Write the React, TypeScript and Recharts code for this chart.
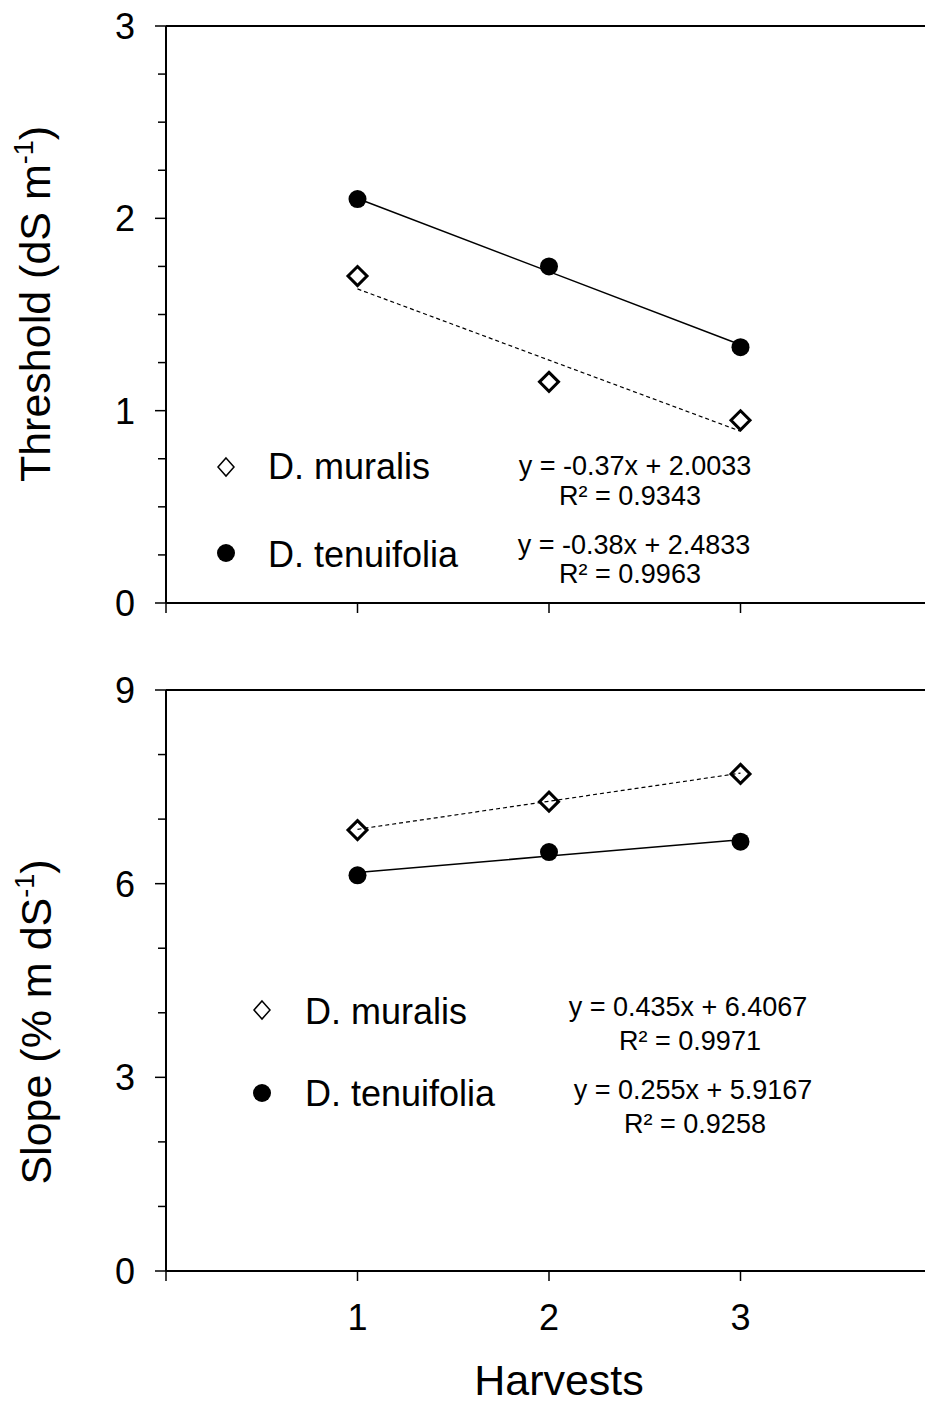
import React from "react";
import { ComposedChart, Scatter, XAxis, YAxis, ReferenceLine } from "recharts";

const FONT = "'Liberation Sans', Arial, Helvetica, sans-serif";

// harvests on the x axis
const harvests = [1, 2, 3];
const xTicks = [0, 1, 2, 3];

// threshold (dS m-1)
const thresholdMuralis = [1.7, 1.15, 0.95];
const thresholdTenuifolia = [2.1, 1.75, 1.33];
const thresholdMuralisFit = [1.633, 1.263, 0.893];
const thresholdTenuifoliaFit = [2.103, 1.723, 1.343];
const thresholdTicks = [0, 0.25, 0.5, 0.75, 1, 1.25, 1.5, 1.75, 2, 2.25, 2.5, 2.75, 3];
const thresholdLabels = [0, 1, 2, 3];

// slope (% m dS-1)
const slopeMuralis = [6.83, 7.27, 7.7];
const slopeTenuifolia = [6.13, 6.49, 6.65];
const slopeMuralisFit = [6.842, 7.277, 7.712];
const slopeTenuifoliaFit = [6.172, 6.427, 6.682];
const slopeTicks = [0, 1, 2, 3, 4, 5, 6, 7, 8, 9];
const slopeLabels = [0, 3, 6, 9];

const toPoints = (ys: number[]) => harvests.map((x, i) => ({ x, y: ys[i] }));

const Diamond = (p: any) => (
  <polygon
    points={`${p.cx},${p.cy - 9.5} ${p.cx + 9.5},${p.cy} ${p.cx},${p.cy + 9.5} ${p.cx - 9.5},${p.cy}`}
    fill="#fff"
    stroke="#000"
    strokeWidth={3}
  />
);
const Dot = (p: any) => <circle cx={p.cx} cy={p.cy} r={9} fill="#000" />;
const NoShape = () => <g />;

function YTick({ x, y, payload, labels }: any) {
  const major = labels.includes(payload.value);
  return (
    <g>
      <line x1={x - (major ? 11 : 8)} x2={x} y1={y} y2={y} stroke="#000" strokeWidth={1.5} />
      {major && (
        <text x={x - 31} y={y} dy="0.36em" textAnchor="end" fontSize={36} fontFamily={FONT} fill="#000">
          {payload.value}
        </text>
      )}
    </g>
  );
}

function XTick({ x, y, payload, showLabel }: any) {
  return (
    <g>
      <line x1={x} x2={x} y1={y} y2={y + 10} stroke="#000" strokeWidth={1.5} />
      {showLabel && payload.value > 0 && (
        <text x={x} y={y + 46} dy="0.36em" textAnchor="middle" fontSize={36} fontFamily={FONT} fill="#000">
          {payload.value}
        </text>
      )}
    </g>
  );
}

const fitLine = (dashed: boolean) => ({
  stroke: "#000",
  strokeWidth: dashed ? 1.2 : 1.5,
  strokeDasharray: dashed ? "4 3" : undefined,
});

function Panel({
  height, top, bottomAxis, domain, ticks, labels, muralis, tenuifolia, muralisFit, tenuifoliaFit, showX,
}: any) {
  return (
    <ComposedChart width={932} height={height} margin={{ top, right: 0, bottom: 0, left: 0 }}>
      <XAxis
        type="number"
        dataKey="x"
        domain={[0, 4]}
        ticks={xTicks}
        interval={0}
        height={bottomAxis}
        tickSize={0}
        tickMargin={0}
        tickLine={false}
        axisLine={{ stroke: "#000", strokeWidth: 2 }}
        tick={(p: any) => <XTick {...p} showLabel={showX} />}
      />
      <YAxis
        type="number"
        dataKey="y"
        domain={domain}
        ticks={ticks}
        interval={0}
        width={166}
        tickSize={0}
        tickMargin={0}
        tickLine={false}
        axisLine={{ stroke: "#000", strokeWidth: 2 }}
        tick={(p: any) => <YTick {...p} labels={labels} />}
      />
      <ReferenceLine y={domain[1]} stroke="#000" strokeWidth={2} />
      <Scatter data={toPoints(muralis)} shape={Diamond} isAnimationActive={false} />
      <Scatter data={toPoints(tenuifolia)} shape={Dot} isAnimationActive={false} />
      <Scatter data={toPoints(muralisFit)} shape={NoShape} line={fitLine(true)} isAnimationActive={false} />
      <Scatter data={toPoints(tenuifoliaFit)} shape={NoShape} line={fitLine(false)} isAnimationActive={false} />
    </ComposedChart>
  );
}

const txt = { fontFamily: FONT, fill: "#000" };

export default function App() {
  return (
    <div style={{ position: "absolute", left: 0, top: 0, width: 925, height: 1405, overflow: "hidden", background: "#fff" }}>
      <div style={{ position: "absolute", left: 0, top: 0 }}>
        <Panel
          height={623}
          top={26}
          bottomAxis={20}
          domain={[0, 3]}
          ticks={thresholdTicks}
          labels={thresholdLabels}
          muralis={thresholdMuralis}
          tenuifolia={thresholdTenuifolia}
          muralisFit={thresholdMuralisFit}
          tenuifoliaFit={thresholdTenuifoliaFit}
          showX={false}
        />
      </div>
      <div style={{ position: "absolute", left: 0, top: 640 }}>
        <Panel
          height={765}
          top={50}
          bottomAxis={134}
          domain={[0, 9]}
          ticks={slopeTicks}
          labels={slopeLabels}
          muralis={slopeMuralis}
          tenuifolia={slopeTenuifolia}
          muralisFit={slopeMuralisFit}
          tenuifoliaFit={slopeTenuifoliaFit}
          showX={true}
        />
      </div>
      <svg width={925} height={1405} style={{ position: "absolute", left: 0, top: 0, pointerEvents: "none" }}>
        {/* axis titles */}
        <text {...txt} x={50} y={304} fontSize={43} textAnchor="middle" transform="rotate(-90 50 304)">
          Threshold (dS m<tspan fontSize={27} dy={-17}>-1</tspan><tspan dy={17}>)</tspan>
        </text>
        <text {...txt} x={51} y={1022} fontSize={43} textAnchor="middle" transform="rotate(-90 51 1022)">
          Slope (% m dS<tspan fontSize={27} dy={-17}>-1</tspan><tspan dy={17}>)</tspan>
        </text>
        <text {...txt} x={559} y={1395} fontSize={43} textAnchor="middle">Harvests</text>

        {/* threshold legend */}
        <polygon points="226,458 234,467 226,476 218,467" fill="#fff" stroke="#000" strokeWidth={1.5} />
        <text {...txt} x={268} y={479} fontSize={36}>D. muralis</text>
        <circle cx={226} cy={553} r={9} fill="#000" />
        <text {...txt} x={268} y={567} fontSize={36}>D. tenuifolia</text>
        <text {...txt} x={635} y={475} fontSize={27} textAnchor="middle">y = -0.37x + 2.0033</text>
        <text {...txt} x={630} y={505} fontSize={27} textAnchor="middle">R² = 0.9343</text>
        <text {...txt} x={634} y={554} fontSize={27} textAnchor="middle">y = -0.38x + 2.4833</text>
        <text {...txt} x={630} y={583} fontSize={27} textAnchor="middle">R² = 0.9963</text>

        {/* slope legend */}
        <polygon points="262,1001 270,1010 262,1019 254,1010" fill="#fff" stroke="#000" strokeWidth={1.5} />
        <text {...txt} x={305} y={1024} fontSize={36}>D. muralis</text>
        <circle cx={262} cy={1093} r={9} fill="#000" />
        <text {...txt} x={305} y={1106} fontSize={36}>D. tenuifolia</text>
        <text {...txt} x={688} y={1016} fontSize={27} textAnchor="middle">y = 0.435x + 6.4067</text>
        <text {...txt} x={690} y={1050} fontSize={27} textAnchor="middle">R² = 0.9971</text>
        <text {...txt} x={693} y={1099} fontSize={27} textAnchor="middle">y = 0.255x + 5.9167</text>
        <text {...txt} x={695} y={1133} fontSize={27} textAnchor="middle">R² = 0.9258</text>
      </svg>
    </div>
  );
}
